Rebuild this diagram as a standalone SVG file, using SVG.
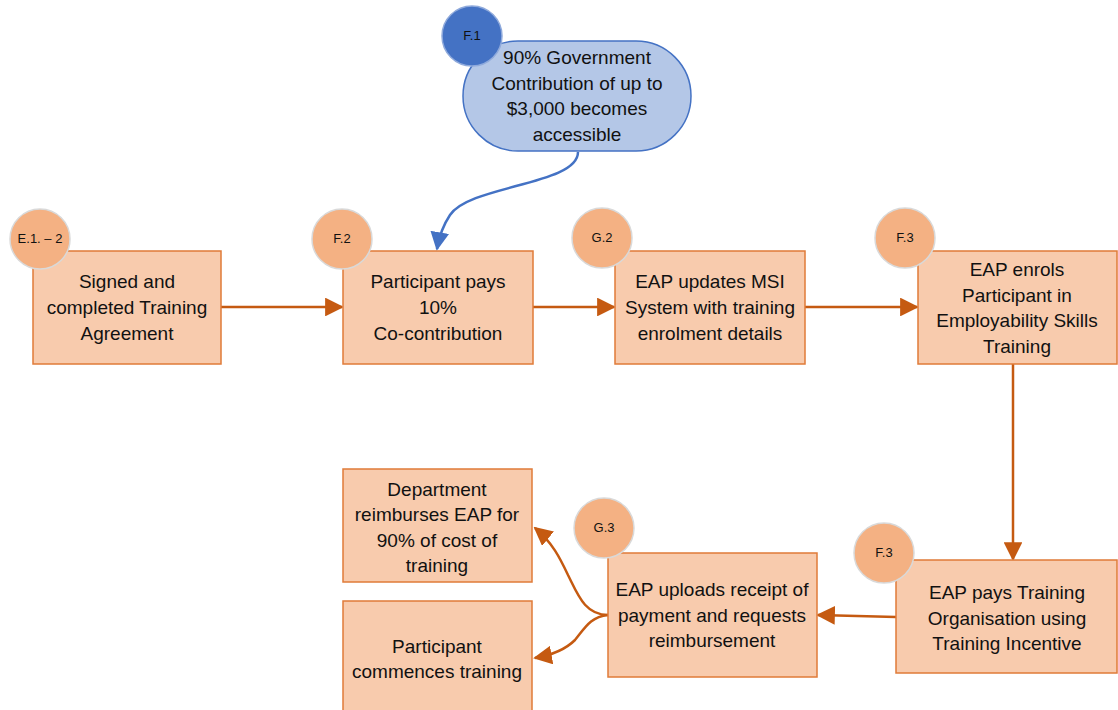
<svg xmlns="http://www.w3.org/2000/svg" width="1118" height="710" viewBox="0 0 1118 710">
<style>
.box{fill:#F8CBAD;stroke:#E07B39;stroke-width:1.5}
.badge{fill:#F4B183;stroke:#D9D9D9;stroke-width:1.5}
.t{font-family:"Liberation Sans",Arial,sans-serif;font-size:19px;fill:#111;text-anchor:middle}
.s{font-family:"Liberation Sans",Arial,sans-serif;font-size:13px;fill:#111;text-anchor:middle}
.c{fill:none;stroke:#C55A11;stroke-width:2.5}
.cb{fill:none;stroke:#4472C4;stroke-width:2.5}
</style>
<defs>
<marker id="ah" viewBox="0 0 10 10" refX="9" refY="5" markerWidth="7.5" markerHeight="7.5" markerUnits="strokeWidth" orient="auto"><path d="M0,0 L10,5 L0,10 Z" fill="#C55A11"/></marker>
<marker id="ahb" viewBox="0 0 10 10" refX="9" refY="5" markerWidth="7.5" markerHeight="7.5" markerUnits="strokeWidth" orient="auto"><path d="M0,0 L10,5 L0,10 Z" fill="#4472C4"/></marker>
</defs>
<rect width="1118" height="710" fill="#fff"/>
<g id="connectors">
<path class="cb" d="M578,152 C578,185 470,185 450,215 C442,227 439,237 437,249" marker-end="url(#ahb)"/>
<line class="c" x1="221" y1="307" x2="342" y2="307" marker-end="url(#ah)"/>
<line class="c" x1="533" y1="307" x2="614" y2="307" marker-end="url(#ah)"/>
<line class="c" x1="805" y1="307" x2="917" y2="307" marker-end="url(#ah)"/>
<line class="c" x1="1013" y1="364" x2="1013" y2="559" marker-end="url(#ah)"/>
<line class="c" x1="896" y1="617" x2="818" y2="615" marker-end="url(#ah)"/>
<path class="c" d="M608,615 C585,615 578,595 568,575 C560,558 552,542 535,528" marker-end="url(#ah)"/>
<path class="c" d="M608,615 C590,617 585,628 575,640 C565,650 552,655 535,658" marker-end="url(#ah)"/>
</g>
<g id="n-f1">
<rect x="463" y="41" width="228" height="110" rx="55" ry="55" fill="#B4C7E7" stroke="#4472C4" stroke-width="1.5"/>
<text class="t"><tspan x="577" y="64">90% Government</tspan><tspan x="577" y="90">Contribution of up to</tspan><tspan x="577" y="115">$3,000 becomes</tspan><tspan x="577" y="141">accessible</tspan></text>
<circle cx="472" cy="36" r="30" fill="#4472C4" stroke="#8FAADC" stroke-width="1.5"/>
<text class="s" x="472" y="40">F.1</text>
</g>
<g id="n-e12">
<rect class="box" x="33" y="251" width="188" height="113"/>
<text class="t"><tspan x="127" y="288">Signed and</tspan><tspan x="127" y="314">completed Training</tspan><tspan x="127" y="340">Agreement</tspan></text>
<circle class="badge" cx="40" cy="239" r="30"/>
<text class="s" x="40" y="243">E.1. – 2</text>
</g>
<g id="n-f2">
<rect class="box" x="343" y="251" width="190" height="113"/>
<text class="t"><tspan x="438" y="288">Participant pays</tspan><tspan x="438" y="314">10%</tspan><tspan x="438" y="340">Co-contribution</tspan></text>
<circle class="badge" cx="342" cy="239" r="30"/>
<text class="s" x="342" y="243">F.2</text>
</g>
<g id="n-g2">
<rect class="box" x="615" y="251" width="190" height="113"/>
<text class="t"><tspan x="710" y="288">EAP updates MSI</tspan><tspan x="710" y="314">System with training</tspan><tspan x="710" y="340">enrolment details</tspan></text>
<circle class="badge" cx="602" cy="238" r="30"/>
<text class="s" x="602" y="242">G.2</text>
</g>
<g id="n-f3a">
<rect class="box" x="918" y="251" width="199" height="113"/>
<text class="t"><tspan x="1017" y="276">EAP enrols</tspan><tspan x="1017" y="302">Participant in</tspan><tspan x="1017" y="327">Employability Skills</tspan><tspan x="1017" y="353">Training</tspan></text>
<circle class="badge" cx="905" cy="238" r="30"/>
<text class="s" x="905" y="242">F.3</text>
</g>
<g id="n-f3b">
<rect class="box" x="896" y="560" width="221" height="113"/>
<text class="t"><tspan x="1007" y="599">EAP pays Training</tspan><tspan x="1007" y="625">Organisation using</tspan><tspan x="1007" y="650">Training Incentive</tspan></text>
<circle class="badge" cx="884" cy="553" r="30"/>
<text class="s" x="884" y="557">F.3</text>
</g>
<g id="n-g3">
<rect class="box" x="608" y="553" width="209" height="124"/>
<text class="t"><tspan x="712" y="596">EAP uploads receipt of</tspan><tspan x="712" y="622">payment and requests</tspan><tspan x="712" y="647">reimbursement</tspan></text>
<circle class="badge" cx="604" cy="528" r="30"/>
<text class="s" x="604" y="532">G.3</text>
</g>
<g id="n-dept">
<rect class="box" x="343" y="469" width="189" height="113"/>
<text class="t"><tspan x="437" y="496">Department</tspan><tspan x="437" y="521">reimburses EAP for</tspan><tspan x="437" y="547">90% of cost of</tspan><tspan x="437" y="572">training</tspan></text>
</g>
<g id="n-commence">
<rect class="box" x="343" y="601" width="189" height="120"/>
<text class="t"><tspan x="437" y="653">Participant</tspan><tspan x="437" y="678">commences training</tspan></text>
</g>
</svg>
